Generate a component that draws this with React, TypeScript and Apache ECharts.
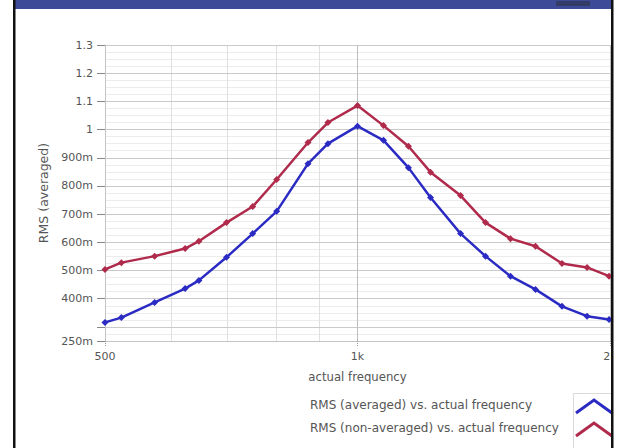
import React, { useEffect, useRef } from "react";
import * as echarts from "echarts";

const frequencies = [500, 523, 573, 623, 647, 698, 750, 801, 873, 922, 1000, 1074, 1150, 1222, 1327, 1421, 1522, 1630, 1753, 1878, 1995];
const rmsAveraged = [0.316, 0.333, 0.387, 0.436, 0.465, 0.547, 0.631, 0.71, 0.879, 0.95, 1.012, 0.962, 0.865, 0.759, 0.631, 0.551, 0.48, 0.433, 0.373, 0.338, 0.326];
const rmsNonAveraged = [0.504, 0.528, 0.551, 0.578, 0.604, 0.67, 0.727, 0.823, 0.954, 1.025, 1.085, 1.014, 0.941, 0.849, 0.766, 0.67, 0.613, 0.586, 0.525, 0.511, 0.48];
const seriesNames = ["RMS (averaged) vs. actual frequency", "RMS (non-averaged) vs. actual frequency"];
const seriesColors = ["#2b2bc4", "#b02a4c"];
const xTickValues = [500, 1000, 2000];
const xMinorGridValues = [600, 700, 800, 900];
const yTickValues = [0.25, 0.3, 0.4, 0.5, 0.6, 0.7, 0.8, 0.9, 1.0, 1.1, 1.2, 1.3];
const yLabelValues = [0.25, 0.4, 0.5, 0.6, 0.7, 0.8, 0.9, 1.0, 1.1, 1.2, 1.3];
const yAxisName = "RMS (averaged)";
const xAxisName = "actual frequency";

const FONT = "DejaVu Sans";

function fmtY(v: number): string {
  if (v >= 1) {
    const r = Math.round(v * 10) / 10;
    return r === 1 ? "1" : r.toFixed(1);
  }
  return Math.round(v * 1000) + "m";
}
function fmtX(v: number): string {
  return v >= 1000 ? Math.round(v / 1000) + "k" : String(Math.round(v));
}

export default function App() {
  const ref = useRef<HTMLDivElement>(null);
  useEffect(() => {
    if (!ref.current) return;
    const chart = echarts.init(ref.current, undefined, { renderer: "svg" });
    const toPairs = (vals: number[]) => frequencies.map((f, i) => [f, vals[i]]);
    const caret = (cy: number, color: string) => ({
      type: "polyline",
      z: 101,
      shape: { points: [[576, cy + 8], [594, cy - 5], [612, cy + 8]] },
      style: { stroke: color, lineWidth: 3, fill: "none" },
    });
    chart.setOption({
      animation: false,
      backgroundColor: "#ffffff",
      grid: { left: 105, right: 14, top: 45, bottom: 107 },
      xAxis: [
        {
          type: "log",
          logBase: 2,
          min: 500,
          max: 2000,
          name: xAxisName,
          nameLocation: "middle",
          nameGap: 30,
          nameTextStyle: { fontFamily: FONT, fontSize: 11.7, color: "#555" },
          axisLine: { show: true, lineStyle: { color: "#c4c4c4", width: 1 } },
          axisTick: { show: true, customValues: xTickValues, length: 6, lineStyle: { color: "#999", type: "dotted" } },
          axisLabel: {
            customValues: xTickValues,
            formatter: (v: number) => fmtX(v),
            margin: 10,
            fontFamily: FONT,
            fontSize: 11,
            color: "#555",
          },
          splitLine: { show: true, lineStyle: { color: "#bdbdbd", width: 1 } },
          z: 1,
        },
        {
          type: "log",
          logBase: 2,
          min: 500,
          max: 2000,
          position: "bottom",
          axisLine: { show: false },
          axisTick: { show: false, customValues: xMinorGridValues },
          axisLabel: { show: false, customValues: xMinorGridValues },
          splitLine: { show: true, lineStyle: { color: "#e0e0e0", width: 1 } },
          z: 0,
        },
      ],
      yAxis: [
        {
          type: "value",
          min: 0.25,
          max: 1.3,
          name: yAxisName,
          nameLocation: "middle",
          nameGap: 53,
          nameTextStyle: { fontFamily: FONT, fontSize: 12.5, color: "#555" },
          axisLine: { show: true, lineStyle: { color: "#c4c4c4", width: 1 } },
          axisTick: { show: true, customValues: yTickValues, length: 8, lineStyle: { color: "#888" } },
          axisLabel: {
            customValues: yLabelValues,
            formatter: (v: number) => fmtY(v),
            margin: 12,
            fontFamily: FONT,
            fontSize: 11,
            color: "#555",
          },
          splitLine: { show: true, lineStyle: { color: "#cacaca", width: 1 } },
          z: 1,
        },
        {
          type: "value",
          min: 0.25,
          max: 1.3,
          interval: 0.025,
          axisLine: { show: false },
          axisTick: { show: false },
          axisLabel: { show: false },
          splitLine: { show: true, lineStyle: { color: "#ececec", width: 1 } },
          z: 0,
        },
      ],
      series: [
        {
          name: seriesNames[0],
          type: "line",
          data: toPairs(rmsAveraged),
          color: seriesColors[0],
          lineStyle: { width: 2.5, color: seriesColors[0] },
          symbol: "diamond",
          symbolSize: 7,
          itemStyle: { color: seriesColors[0] },
          z: 3,
        },
        {
          name: seriesNames[1],
          type: "line",
          data: toPairs(rmsNonAveraged),
          color: seriesColors[1],
          lineStyle: { width: 2.5, color: seriesColors[1] },
          symbol: "diamond",
          symbolSize: 7,
          itemStyle: { color: seriesColors[1] },
          z: 3,
        },
      ],
      graphic: [
        { type: "rect", z: 100, shape: { x: 13, y: 0, width: 599, height: 9 }, style: { fill: "#3c4a97" } },
        { type: "rect", z: 101, shape: { x: 556, y: 1, width: 34, height: 5 }, style: { fill: "#2f3552", opacity: 0.7 } },
        { type: "rect", z: 100, shape: { x: 13, y: 0, width: 2.5, height: 448 }, style: { fill: "#111" } },
        { type: "rect", z: 100, shape: { x: 573.5, y: 393.5, width: 50, height: 60 }, style: { fill: "none", stroke: "#dadada", lineWidth: 1 } },
        {
          type: "text",
          z: 100,
          x: 310,
          y: 405,
          style: { text: seriesNames[0], fontFamily: FONT, fontSize: 12, fill: "#555", verticalAlign: "middle" },
        },
        {
          type: "text",
          z: 100,
          x: 310,
          y: 428,
          style: { text: seriesNames[1], fontFamily: FONT, fontSize: 12, fill: "#555", verticalAlign: "middle" },
        },
        caret(405, seriesColors[0]),
        caret(428, seriesColors[1]),
        { type: "rect", z: 110, shape: { x: 613, y: 0, width: 11, height: 448 }, style: { fill: "#ffffff" } },
        { type: "rect", z: 111, shape: { x: 611, y: 0, width: 2.5, height: 448 }, style: { fill: "#111" } },
      ],
    });
    return () => chart.dispose();
  }, []);
  return <div ref={ref} style={{ position: "fixed", left: 0, top: 0, width: 624, height: 448 }} />;
}
